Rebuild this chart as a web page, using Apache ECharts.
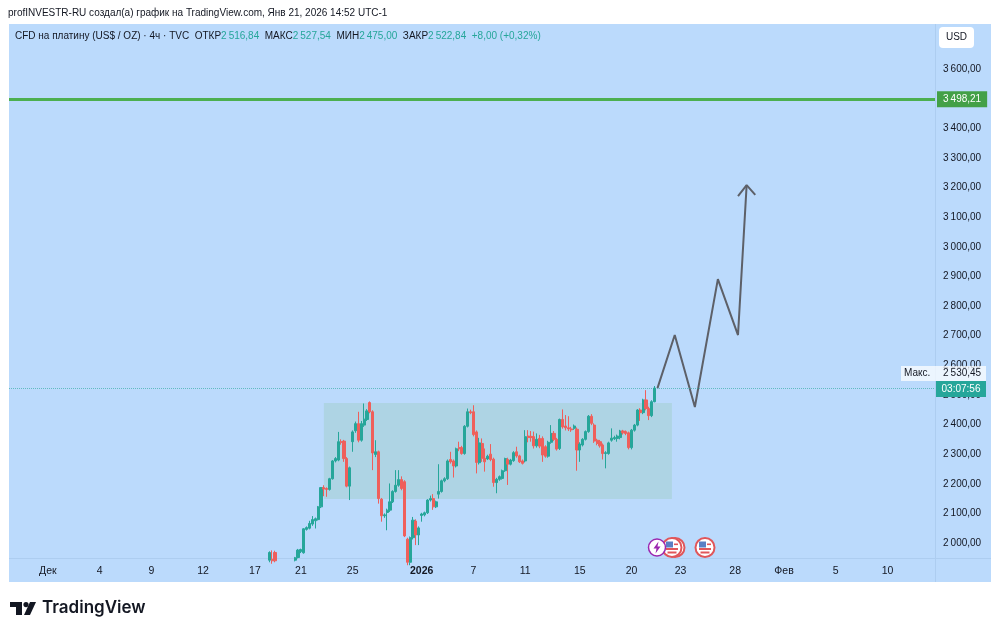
<!DOCTYPE html>
<html>
<head>
<meta charset="utf-8">
<title>CFD на платину</title>
<style>
    html, body { margin: 0; padding: 0; background: #fff; }
    #chart { width: 1000px; height: 634px; }
</style>
<script src="https://cdn.jsdelivr.net/npm/echarts@6/dist/echarts.min.js"></script>
</head>
<body>
<div id="chart"></div>
<script>
// Свечи: open, close, low, high
const firstBar = 90;
const candles = [
    [1942,1968,1935,1972],[1945,1940,1930,1975],[1968,1940,1935,1974],[1938,1925,1918,1944],
    [1925,1915,1905,1932],[1915,1922,1908,1930],[1922,1930,1915,1936],[1930,1938,1922,1943],
    [1938,1943,1930,1947],[1942,1950,1938,1953],[1951,1976,1948,1980],[1971,1978,1966,1981],
    [1967,2048,1964,2050],[2046,2052,2042,2056],[2050,2066,2046,2075],[2064,2079,2058,2091],
    [2075,2082,2049,2086],[2079,2122,2076,2125],[2122,2187,2118,2189],[2187,2182,2158,2195],
    [2184,2181,2156,2188],[2181,2217,2177,2220],[2217,2277,2214,2280],[2277,2285,2272,2290],
    [2280,2342,2276,2375],[2342,2340,2332,2350],[2344,2285,2274,2348],[2285,2192,2188,2290],
    [2192,2254,2145,2258],[2342,2375,2308,2380],[2379,2403,2372,2410],[2403,2347,2340,2443],
    [2347,2403,2342,2412],[2398,2418,2392,2471],[2417,2446,2412,2452],[2474,2443,2438,2478],
    [2443,2304,2246,2448],[2299,2308,2290,2347],[2308,2150,2133,2312],[2148,2092,2072,2152],
    [2092,2095,2085,2100],[2103,2111,2043,2116],[2111,2139,2105,2201],[2139,2174,2135,2178],
    [2174,2195,2170,2246],[2195,2214,2190,2246],[2214,2184,2178,2225],[2207,2024,2020,2212],
    [2013,1935,1925,2018],[1935,2018,1925,2022],[2018,2077,2012,2088],[2074,2027,1993,2080],
    [2027,2051,1993,2056],[2093,2098,2072,2102],[2095,2102,2090,2106],[2102,2145,2098,2148],
    [2145,2150,2140,2160],[2150,2122,2112,2165],[2122,2139,2118,2143],[2165,2174,2150,2266],
    [2174,2210,2170,2214],[2210,2217,2205,2222],[2217,2277,2213,2282],[2282,2274,2268,2308],
    [2277,2260,2221,2282],[2260,2318,2255,2322],[2322,2318,2310,2342],[2322,2302,2298,2328],
    [2302,2394,2298,2398],[2394,2443,2390,2454],[2443,2440,2435,2450],[2443,2366,2360,2465],
    [2375,2272,2235,2380],[2271,2338,2265,2355],[2336,2286,2274,2353],[2286,2274,2241,2319],
    [2284,2293,2280,2298],[2300,2282,2276,2334],[2283,2204,2190,2288],[2204,2215,2168,2220],
    [2215,2224,2210,2228],[2218,2244,2214,2248],[2244,2285,2240,2288],[2282,2266,2196,2288],
    [2266,2280,2262,2284],[2278,2305,2274,2310],[2308,2294,2288,2325],[2294,2274,2270,2298],
    [2277,2269,2265,2282],[2277,2359,2272,2381],[2361,2356,2340,2381],[2360,2356,2342,2378],
    [2359,2328,2319,2376],[2328,2350,2322,2370],[2353,2327,2320,2365],[2353,2297,2274,2360],
    [2325,2293,2288,2330],[2293,2340,2288,2345],[2340,2370,2335,2398],[2370,2350,2344,2378],
    [2350,2317,2312,2355],[2319,2417,2314,2420],[2417,2392,2386,2451],[2395,2389,2380,2432],
    [2389,2385,2378,2428],[2385,2382,2375,2392],[2387,2395,2382,2400],[2384,2314,2244,2390],
    [2314,2334,2274,2340],[2331,2350,2326,2354],[2350,2376,2346,2380],[2376,2428,2372,2432],
    [2428,2404,2398,2435],[2398,2344,2338,2404],[2347,2336,2330,2352],[2342,2328,2322,2348],
    [2331,2302,2282,2336],[2302,2305,2252,2310],[2302,2338,2298,2342],[2347,2354,2342,2387],
    [2352,2356,2348,2362],[2353,2361,2342,2366],[2356,2378,2350,2382],[2378,2372,2366,2382],
    [2376,2370,2364,2380],[2372,2322,2316,2376],[2322,2381,2316,2385],[2381,2398,2376,2402],
    [2398,2449,2394,2452],[2449,2440,2412,2455],[2440,2483,2435,2487],[2483,2454,2448,2516],
    [2454,2430,2415,2460],[2430,2477,2425,2482],[2477,2523,2475,2530]
];

// Ось времени
const barCount = 322;
const xTickBars = [13, 31, 49, 67, 85, 101, 119, 143, 161, 179, 198, 216, 233, 252, 269, 287, 305];
const xTickLabels = ['Дек', '4', '9', '12', '17', '21', '25', '2026', '7', '11', '15', '20', '23', '28', 'Фев', '5', '10'];

// Ось цены
const yMin = 1949.4;
const yMax = 3752;
const yTicks = [2000, 2100, 2200, 2300, 2400, 2500, 2600, 2700, 2800, 2900, 3000, 3100, 3200, 3300, 3400, 3500, 3600];

// Разметка автора: прямоугольник, уровень, стрелка
const rangeBars = [109, 230];
const rangePrices = [2148.5, 2472.6];
const targetLevel = 3498.21;
const lastClose = 2522.84;
const arrowBars = [225, 231, 238, 246, 253, 256];
const arrowPrices = [2523, 2702, 2459, 2891, 2702, 3208];
const headBars = [253, 256, 259];
const headPrices = [3171, 3208, 3175];

const paneColor = '#bbdafc';
const upColor = '#26a69a';
const downColor = '#ef5f5b';
const font = '"Liberation Sans", sans-serif';

const categories = new Array(barCount).fill('');
xTickBars.forEach((bar, i) => { categories[bar] = xTickLabels[i]; });

function formatPrice(value) {
    return value.toFixed(2).replace('.', ',').replace(/^(\d)(\d{3})/, '$1\u2009$2');
}

function flagIcon(cx, cy) {
    return {
        type: 'group', x: cx, y: cy, children: [
            { type: 'circle', shape: { r: 9.5 }, style: { fill: '#fff', stroke: '#e0565a', lineWidth: 2 } },
            { type: 'rect', shape: { x: -6, y: 0.5, width: 12, height: 2 }, style: { fill: '#e0565a' } },
            { type: 'rect', shape: { x: -4.5, y: 4, width: 9, height: 2 }, style: { fill: '#e0565a' } },
            { type: 'rect', shape: { x: -6, y: -6, width: 7, height: 6 }, style: { fill: '#5a7fc4' } },
            { type: 'rect', shape: { x: 2, y: -4, width: 4, height: 1.6 }, style: { fill: '#e0565a' } }
        ]
    };
}

const chart = echarts.init(document.getElementById('chart'));
chart.setOption({
    animation: false,
    backgroundColor: '#fff',
    textStyle: { fontFamily: font },
    grid: { left: 9, right: 65, top: 24, bottom: 76 },
    xAxis: {
        type: 'category',
        data: categories,
        boundaryGap: true,
        axisLine: { show: false },
        axisTick: { show: false },
        splitLine: { show: false },
        axisLabel: {
            interval: 0,
            hideOverlap: false,
            margin: 8,
            fontSize: 10.5,
            fontFamily: font,
            color: '#131722',
            formatter: function (value) {
                return value === '2026' ? '{b|2026}' : value;
            },
            rich: { b: { fontSize: 10.5, fontWeight: 'bold', fontFamily: font, color: '#131722' } }
        }
    },
    yAxis: {
        type: 'value',
        position: 'right',
        min: yMin,
        max: yMax,
        axisLine: { show: false },
        axisTick: { show: false },
        splitLine: { show: false },
        axisLabel: {
            customValues: yTicks,
            margin: 8,
            fontSize: 10,
            fontFamily: font,
            color: '#131722',
            formatter: function (value) { return formatPrice(value); }
        }
    },
    series: [
        {
            type: 'candlestick',
            barWidth: 2.6,
            encode: { x: 0, y: [1, 2, 3, 4] },
            data: candles.map((c, i) => [firstBar + i].concat(c)),
            itemStyle: {
                color: upColor, color0: downColor,
                borderColor: upColor, borderColor0: downColor,
                borderWidth: 1
            },
            markArea: {
                silent: true,
                itemStyle: { color: 'rgba(135,194,156,0.25)' },
                data: [[
                    { coord: [rangeBars[0], rangePrices[0]] },
                    { coord: [rangeBars[1], rangePrices[1]] }
                ]]
            },
            markLine: {
                silent: true,
                symbol: 'none',
                data: [
                    {
                        yAxis: targetLevel,
                        lineStyle: { color: '#4caf50', width: 3, type: 'solid' },
                        label: {
                            position: 'end',
                            distance: 2,
                            formatter: formatPrice(targetLevel),
                            color: '#fff',
                            fontSize: 10,
                            fontFamily: font,
                            backgroundColor: '#43a047',
                            padding: [3, 6]
                        }
                    },
                    {
                        yAxis: lastClose,
                        lineStyle: { color: '#26a69a', width: 1, type: 'dotted', opacity: 0.6 },
                        label: { show: false }
                    }
                ]
            }
        },
        {
            type: 'line',
            symbol: 'none',
            silent: true,
            lineStyle: { color: '#5d6068', width: 2 },
            data: arrowBars.map((b, i) => [b, arrowPrices[i]])
        },
        {
            type: 'line',
            symbol: 'none',
            silent: true,
            lineStyle: { color: '#5d6068', width: 2 },
            data: headBars.map((b, i) => [b, headPrices[i]])
        }
    ],
    graphic: [
        // фон панели
        { type: 'rect', z: -10, silent: true, shape: { x: 9, y: 24, width: 982, height: 558 }, style: { fill: paneColor } },
        { type: 'rect', z: -9, silent: true, shape: { x: 935, y: 24, width: 1, height: 558 }, style: { fill: '#adcdf0' } },
        { type: 'rect', z: -9, silent: true, shape: { x: 9, y: 558, width: 982, height: 1 }, style: { fill: '#adcdf0' } },
        // заголовок
        { type: 'text', left: 8, top: 8, style: { text: 'profINVESTR-RU создал(а) график на TradingView.com, Янв 21, 2026 14:52 UTC-1', font: '10px ' + font, fill: '#131722' } },
        {
            type: 'text', left: 15, top: 31,
            style: {
                text: '{d|CFD на платину (US$ / OZ) · 4ч · TVC  ОТКР}{g|2\u2009516,84}{d|  МАКС}{g|2\u2009527,54}{d|  МИН}{g|2\u2009475,00}{d|  ЗАКР}{g|2\u2009522,84  +8,00 (+0,32%)}',
                rich: {
                    d: { font: '10px ' + font, fill: '#131722' },
                    g: { font: '10px ' + font, fill: '#26a69a' }
                }
            }
        },
        // USD
        { type: 'rect', shape: { x: 939, y: 27, width: 35, height: 21, r: 4 }, style: { fill: '#fff' } },
        { type: 'text', x: 956.5, y: 37.5, style: { text: 'USD', font: '10px ' + font, fill: '#131722', align: 'center', verticalAlign: 'middle' } },
        // плашки цены
        { type: 'rect', z: 20, shape: { x: 901, y: 366, width: 85, height: 15 }, style: { fill: 'rgba(255,255,255,0.72)' } },
        { type: 'text', z: 21, x: 904, y: 373.5, style: { text: 'Макс.', font: '10px ' + font, fill: '#131722', verticalAlign: 'middle' } },
        { type: 'text', z: 21, x: 943, y: 373.5, style: { text: '2\u2009530,45', font: '10px ' + font, fill: '#131722', verticalAlign: 'middle' } },
        { type: 'rect', z: 20, shape: { x: 936, y: 381, width: 50, height: 16 }, style: { fill: '#26a69a' } },
        { type: 'text', z: 21, x: 961, y: 389, style: { text: '03:07:56', font: '10px ' + font, fill: '#fff', align: 'center', verticalAlign: 'middle' } },
        // значки событий
        flagIcon(675, 547.5),
        flagIcon(672, 547.5),
        flagIcon(705, 547.5),
        {
            type: 'group', x: 657, y: 547.5, children: [
                { type: 'circle', shape: { r: 8.5 }, style: { fill: '#fff', stroke: '#9c27b0', lineWidth: 1.5 } },
                { type: 'polygon', shape: { points: [[1.5, -6], [-3.5, 1], [-0.5, 1], [-1.5, 6], [3.5, -1], [0.5, -1]] }, style: { fill: '#9c27b0' } }
            ]
        },
        // логотип
        {
            type: 'group', x: 10, y: 602, children: [
                { type: 'polygon', shape: { points: [[0, 0], [12, 0], [12, 13], [6, 13], [6, 5], [0, 5]] }, style: { fill: '#131722' } },
                { type: 'circle', shape: { cx: 16, cy: 2.6, r: 2.6 }, style: { fill: '#131722' } },
                { type: 'polygon', shape: { points: [[20, 0], [26, 0], [20, 13], [14, 13]] }, style: { fill: '#131722' } }
            ]
        },
        { type: 'text', x: 42, y: 608, style: { text: 'TradingView', font: '600 17px Inter, ' + font, fill: '#131722', verticalAlign: 'middle' } }
    ]
});

window.addEventListener('resize', function () { chart.resize(); });
</script>
</body>
</html>
